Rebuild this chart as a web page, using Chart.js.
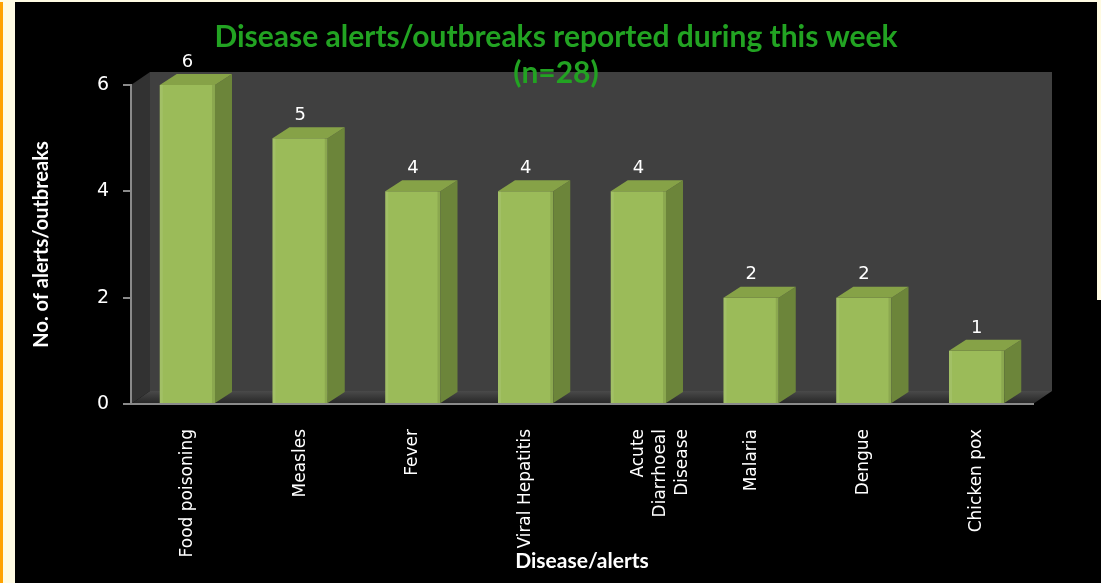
<!DOCTYPE html>
<html>
<head>
<meta charset="utf-8">
<script src="https://cdn.jsdelivr.net/npm/chart.js@4.4.1/dist/chart.umd.min.js"></script>
<style>
  html, body { margin: 0; padding: 0; background: #000; }
  #wrap { position: relative; width: 1101px; height: 583px; overflow: hidden; background: #000; }
  canvas { position: absolute; left: 0; top: 0; }
  .strip { position: absolute; }
</style>
</head>
<body>
<div id="wrap">
  <canvas id="c" width="1101" height="583"></canvas>
  <div class="strip" style="left:0;top:0;width:3px;height:583px;background:#ffa200;"></div>
  <div class="strip" style="left:3px;top:0;width:12px;height:583px;background:#fffbe3;"></div>
  <div class="strip" style="left:0;top:0;width:1101px;height:2px;background:#fffbe3;"></div>
  <div class="strip" style="left:1097px;top:0;width:4px;height:300px;background:#fffbe3;"></div>
</div>
<script>
const titleLines = ['Disease alerts/outbreaks reported during this week', '(n=28)'];
const categories = ['Food poisoning', 'Measles', 'Fever', 'Viral Hepatitis', ['Acute', 'Diarrhoeal', 'Disease'], 'Malaria', 'Dengue', 'Chicken pox'];
const alertCounts = [6, 5, 4, 4, 4, 2, 2, 1];
const yTickValues = [0, 2, 4, 6];
const yAxisTitle = 'No. of alerts/outbreaks';
const xAxisTitle = 'Disease/alerts';

const WALL_DX = 19, WALL_DY = 13;
const BAR_DX = 17, BAR_DY = 11;

const threeD = {
  id: 'threeD',
  beforeDraw(chart) {
    const ctx = chart.ctx;
    const a = chart.chartArea;
    ctx.save();
    ctx.fillStyle = '#000';
    ctx.fillRect(0, 0, chart.width, chart.height);
    ctx.fillStyle = '#404040';
    ctx.fillRect(a.left + WALL_DX, a.top - WALL_DY, a.right - a.left, a.bottom - a.top);
    ctx.beginPath();
    ctx.moveTo(a.left, a.top);
    ctx.lineTo(a.left + WALL_DX, a.top - WALL_DY);
    ctx.lineTo(a.left + WALL_DX, a.bottom - WALL_DY);
    ctx.lineTo(a.left, a.bottom);
    ctx.closePath();
    ctx.fillStyle = '#323232';
    ctx.fill();
    const g = ctx.createLinearGradient(0, a.bottom - WALL_DY, 0, a.bottom);
    g.addColorStop(0, '#4a4a4a');
    g.addColorStop(1, '#252525');
    ctx.beginPath();
    ctx.moveTo(a.left, a.bottom);
    ctx.lineTo(a.left + WALL_DX, a.bottom - WALL_DY);
    ctx.lineTo(a.right + WALL_DX, a.bottom - WALL_DY);
    ctx.lineTo(a.right, a.bottom);
    ctx.closePath();
    ctx.fillStyle = g;
    ctx.fill();
    ctx.restore();
  },
  afterDatasetsDraw(chart) {
    const ctx = chart.ctx;
    const meta = chart.getDatasetMeta(0);
    ctx.save();
    meta.data.forEach((bar, i) => {
      const p = bar.getProps(['x', 'y', 'base', 'width'], true);
      const l = p.x - p.width / 2, r = p.x + p.width / 2, t = p.y, b = p.base;
      ctx.beginPath();
      ctx.moveTo(r, t);
      ctx.lineTo(r + BAR_DX, t - BAR_DY);
      ctx.lineTo(r + BAR_DX, b - BAR_DY);
      ctx.lineTo(r, b);
      ctx.closePath();
      ctx.fillStyle = '#6c853a';
      ctx.fill();
      ctx.beginPath();
      ctx.moveTo(l, t);
      ctx.lineTo(l + BAR_DX, t - BAR_DY);
      ctx.lineTo(r + BAR_DX, t - BAR_DY);
      ctx.lineTo(r, t);
      ctx.closePath();
      ctx.fillStyle = '#86a247';
      ctx.fill();
      ctx.fillStyle = 'rgba(255,255,255,0.08)';
      ctx.fillRect(l, t, 3, b - t);
      ctx.fillStyle = 'rgba(0,0,0,0.10)';
      ctx.fillRect(r - 3, t, 3, b - t);
      ctx.fillStyle = '#ffffff';
      ctx.font = '18px "DejaVu Sans"';
      ctx.textAlign = 'center';
      ctx.textBaseline = 'middle';
      ctx.fillText(String(alertCounts[i]), p.x, t - 23);
    });
    ctx.restore();
  }
};

new Chart(document.getElementById('c'), {
  type: 'bar',
  data: {
    labels: categories,
    datasets: [{
      data: alertCounts,
      backgroundColor: '#9bbb59',
      borderWidth: 0,
      categoryPercentage: 1.0,
      barPercentage: 0.49
    }]
  },
  options: {
    responsive: false,
    animation: false,
    devicePixelRatio: 1,
    layout: { padding: { left: 11, right: 0, top: 0, bottom: 0 } },
    plugins: {
      legend: { display: false },
      tooltip: { enabled: false },
      title: {
        display: true,
        text: titleLines,
        color: '#22a322',
        font: { family: 'Lato', size: 30, weight: 'bold', lineHeight: 1.2 },
        padding: { top: 19, bottom: -6 }
      }
    },
    scales: {
      x: {
        grid: { display: false },
        border: { display: true, color: '#8a8a8a', width: 2 },
        ticks: {
          color: '#ffffff',
          font: { family: 'DejaVu Sans', size: 17, lineHeight: 1.3 },
          maxRotation: 90,
          minRotation: 90,
          autoSkip: false,
          padding: 17
        },
        title: {
          display: true,
          text: xAxisTitle,
          color: '#ffffff',
          font: { family: 'Lato', size: 21, weight: 'bold' },
          padding: { top: 0, bottom: 9 }
        },
        afterFit(scale) { scale.height = 179; }
      },
      y: {
        min: 0,
        max: 6,
        afterBuildTicks(scale) { scale.ticks = yTickValues.map(v => ({ value: v })); },
        grid: { display: true, drawOnChartArea: false, color: '#8a8a8a', tickLength: 8, lineWidth: 2 },
        border: { display: true, color: '#8a8a8a', width: 2 },
        ticks: {
          color: '#ffffff',
          font: { family: 'DejaVu Sans', size: 19 },
          padding: 14
        },
        title: {
          display: true,
          text: yAxisTitle,
          color: '#ffffff',
          font: { family: 'Lato', size: 20, weight: 'bold' },
          padding: { top: 19, bottom: 0 }
        },
        afterFit(scale) { scale.width = 120; }
      },
      yR: {
        position: 'right',
        display: true,
        grid: { display: false },
        border: { display: false },
        ticks: { display: false },
        afterFit(scale) { scale.width = 68; }
      }
    }
  },
  plugins: [threeD]
});
</script>
</body>
</html>
